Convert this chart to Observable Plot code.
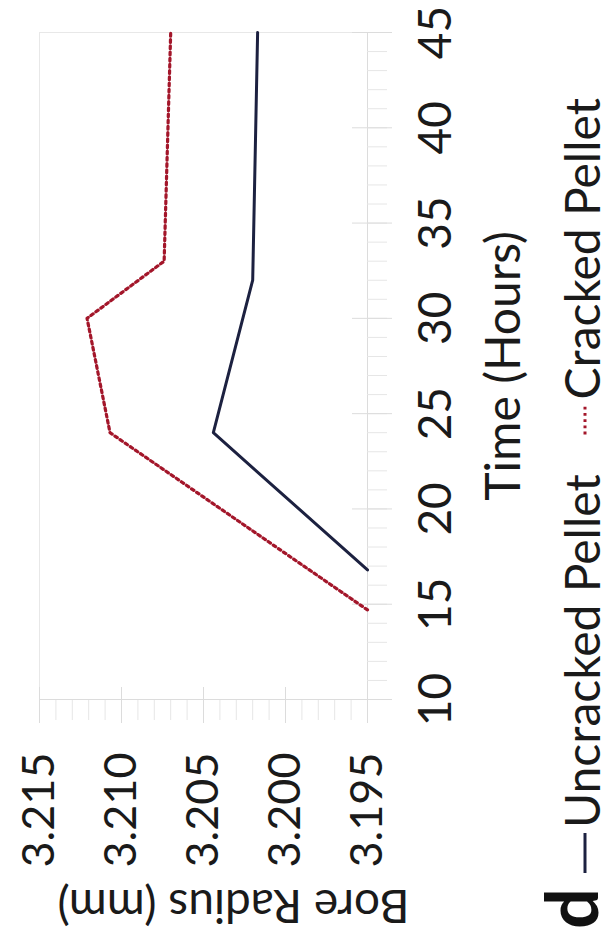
<!DOCTYPE html>
<html>
<head>
<meta charset="utf-8">
<script src="https://cdn.jsdelivr.net/npm/d3@7"></script>
<script src="https://cdn.jsdelivr.net/npm/@observablehq/plot@0.6"></script>
<style>
  html, body { margin: 0; padding: 0; background: #fff; }
  body { width: 613px; height: 943px; overflow: hidden; position: relative; }
  /* The figure is laid out landscape, then turned a quarter turn counter-clockwise */
  #fig {
    position: absolute; left: 0; top: 0;
    width: 943px; height: 613px;
    transform-origin: 0 0;
    transform: translate(0px, 943px) rotate(-90deg);
    background: #fff;
  }
  #fig svg { display: block; }
  #fig svg.legend { position: absolute; left: 0; top: 480px; overflow: visible; }
</style>
</head>
<body>
<div id="fig"></div>
<script>
// Bore radius over time for the two pellet conditions
const timeTicks = [10, 15, 20, 25, 30, 35, 40, 45];
const radiusTicks = [3.195, 3.200, 3.205, 3.210, 3.215];

const uncrackedTime   = [16.8, 24, 32, 45];
const uncrackedRadius = [3.195, 3.2044, 3.2020, 3.2017];

const crackedTime   = [14.7, 24, 30, 33, 45];
const crackedRadius = [3.195, 3.2107, 3.2121, 3.2074, 3.2070];

const seriesNames = ["Uncracked Pellet", "Cracked Pellet"];
const seriesColors = ["#1c2140", "#a3162a"];
const crackedDash = "2.8,3.4";

const uncracked = uncrackedTime.map((t, i) => ({time: t, radius: uncrackedRadius[i]}));
const cracked = crackedTime.map((t, i) => ({time: t, radius: crackedRadius[i]}));

const minorTime = d3.range(10, 45.5, 1);
const minorRadius = d3.range(0, 21).map(i => +(3.195 + i * 0.001).toFixed(3));

const tickGrey = "#dcdcdc";
const minorGrey = "#e6e6e6";
const textColor = "#1a1a1a";
const font = "Lato, 'Open Sans', sans-serif";

const chart = Plot.plot({
  width: 943,
  height: 545,
  marginLeft: 243,
  marginRight: 33,
  marginTop: 39,
  marginBottom: 178,
  style: {fontFamily: font, fontSize: "46px", color: textColor, background: "#fff"},
  x: {domain: [10, 45]},
  y: {domain: [3.195, 3.215]},
  marks: [
    Plot.frame({stroke: "#e8e8e8"}),
    // axis lines
    Plot.ruleY([3.195], {stroke: tickGrey}),
    Plot.ruleX([10], {stroke: tickGrey}),
    // minor ticks (outside)
    Plot.axisX(minorTime, {text: null, label: null, tickSize: 20, stroke: minorGrey}),
    Plot.axisY(minorRadius, {text: null, label: null, tickSize: 20, stroke: minorGrey}),
    // major ticks (crossing the axis line)
    Plot.axisX(timeTicks, {text: null, label: null, tickSize: 40, dy: -15, stroke: tickGrey}),
    Plot.axisY(radiusTicks, {text: null, label: null, tickSize: 36, dx: 13, stroke: tickGrey}),
    // tick labels
    Plot.axisX(timeTicks, {tickSize: 0, tickPadding: 51, label: null, fontSize: 46, fill: textColor}),
    Plot.axisY(radiusTicks, {tickSize: 0, tickPadding: 53, label: null, tickFormat: d3.format(".3f"), fontSize: 45, fill: textColor}),
    // axis titles
    Plot.text(["Time (Hours)"], {text: d => d, frameAnchor: "bottom", textAnchor: "middle", lineAnchor: "top", dy: 118, fontSize: 48, fill: textColor}),
    Plot.text(["Bore Radius (mm)"], {text: d => d, frameAnchor: "left", textAnchor: "middle", rotate: -90, lineAnchor: "top", dx: -223, dy: 30, fontSize: 46, fill: textColor}),
    // series
    Plot.line(uncracked, {x: "time", y: "radius", stroke: seriesColors[0], strokeWidth: 3, strokeLinejoin: "round"}),
    Plot.line(cracked, {x: "time", y: "radius", stroke: seriesColors[1], strokeWidth: 3.2, strokeDasharray: crackedDash})
  ]
});

const fig = document.getElementById("fig");
fig.appendChild(chart);

// legend row with panel letter
const leg = d3.select(fig).append("svg")
  .attr("class", "legend")
  .attr("width", 943).attr("height", 133)
  .style("font-family", font);

const baseline = 120, keyY = 105, legFont = 48;

leg.append("text")
  .attr("x", 14).attr("y", baseline - 2)
  .attr("font-size", 72).attr("font-weight", 700)
  .attr("fill", "#111")
  .text("d");

let cx = 70;
seriesNames.forEach((name, i) => {
  const keyLen = i === 0 ? 40 : 30;
  leg.append("line")
    .attr("x1", cx).attr("x2", cx + keyLen)
    .attr("y1", keyY).attr("y2", keyY)
    .attr("stroke", seriesColors[i])
    .attr("stroke-width", 3)
    .attr("stroke-dasharray", i === 1 ? crackedDash : null);
  const t = leg.append("text")
    .attr("x", cx + keyLen + 5).attr("y", baseline)
    .attr("font-size", legFont).attr("fill", textColor)
    .text(name);
  cx = cx + keyLen + 5 + t.node().getComputedTextLength() + 40;
});
</script>
</body>
</html>
